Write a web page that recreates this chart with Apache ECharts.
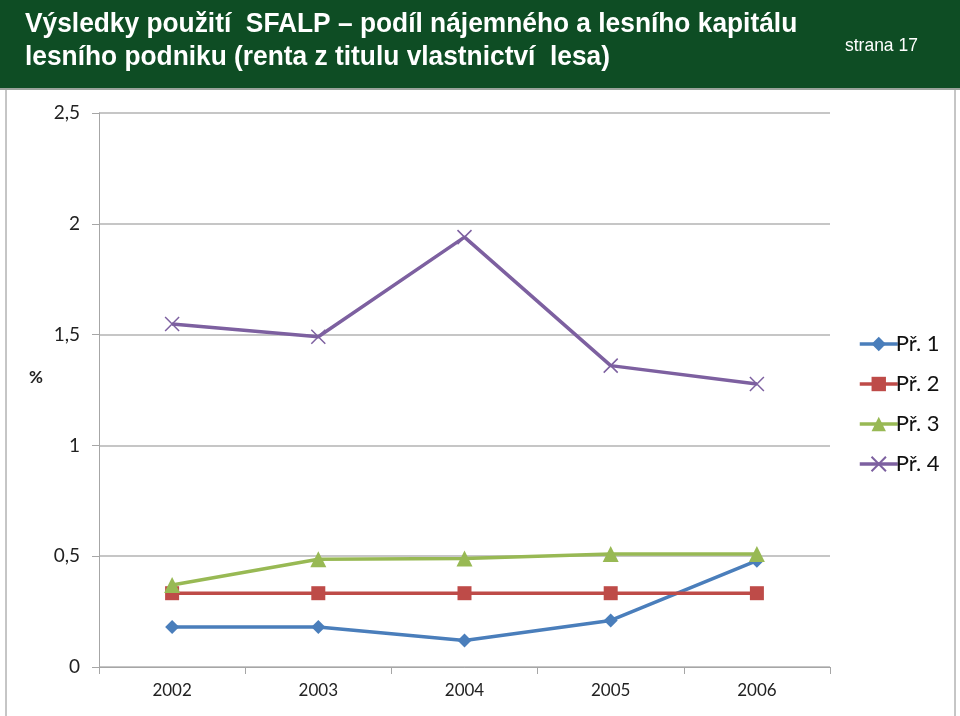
<!DOCTYPE html>
<html><head><meta charset="utf-8">
<script src="https://cdn.jsdelivr.net/npm/echarts@6/dist/echarts.min.js"></script>
<style>html,body{margin:0;padding:0;background:#fff}#c{width:960px;height:716px}</style>
</head><body><div id="c"></div>
<script>
const categories = ['2002','2003','2004','2005','2006'];
const seriesNames = ['Př. 1','Př. 2','Př. 3','Př. 4'];
const pr1 = [0.18, 0.18, 0.12, 0.21, 0.48];
const pr2 = [0.333, 0.333, 0.333, 0.333, 0.333];
const pr3 = [0.37, 0.486, 0.49, 0.51, 0.51];
const pr4 = [1.548, 1.49, 1.94, 1.36, 1.277];
const yTicks = ['0','0,5','1','1,5','2','2,5'];
const titleLines = ['Výsledky použití  SFALP – podíl nájemného a lesního kapitálu', 'lesního podniku (renta z titulu vlastnictví  lesa)'];
const pageLabel = 'strana 17';

const colors = ['#4a7ebb','#be4b48','#98b954','#7d60a0'];
const fontAx = 'Lato, "Noto Sans", sans-serif';
const chart = echarts.init(document.getElementById('c'));
const xPath = 'path://M0,0L10,10M10,0L0,10';
function mk(name, data, color, symbol, size, extra) {
  return Object.assign({
    name, type: 'line', data, symbol, symbolSize: size,
    lineStyle: {color, width: 3.5},
    itemStyle: {color, borderColor: color, borderWidth: 0},
    emphasis: {disabled: true}, animation: false
  }, extra || {});
}
const titleFont = 'bold 28px "Liberation Sans", Arial, sans-serif';
chart.setOption({
  animation: false,
  color: colors,
  graphic: [
    {type:'rect', shape:{x:0,y:0,width:960,height:88}, style:{fill:'#0e4d24'}},
    {type:'rect', shape:{x:0,y:88,width:960,height:2}, style:{fill:'#9aa39c'}},
    {type:'line', shape:{x1:6,y1:90,x2:6,y2:716}, style:{stroke:'#8c8c8c', lineWidth:1}},
    {type:'line', shape:{x1:955,y1:90,x2:955,y2:716}, style:{stroke:'#8c8c8c', lineWidth:1}},
    {type:'text', x:25, y:10, scaleX:0.94, style:{text:titleLines[0], fill:'#fff', font:titleFont}},
    {type:'text', x:25, y:43, scaleX:0.94, style:{text:titleLines[1], fill:'#fff', font:titleFont}},
    {type:'text', x:845, y:36, scaleX:0.92, style:{text:pageLabel, fill:'#fff', font:'19px "Liberation Sans", Arial, sans-serif'}},
    {type:'text', left:29, top:369, style:{text:'%', fill:'#222', font:'bold 17px ' + fontAx}}
  ],
  grid: {left: 99, right: 130, top: 113, bottom: 49},
  legend: {
    orient: 'vertical', left: 853, top: 328, itemGap: 18, itemWidth: 38, itemHeight: 18,
    data: seriesNames,
    lineStyle: {width: 3.5},
    textStyle: {fontSize: 22, color: '#111', fontFamily: fontAx, padding:[0,0,0,-7]}
  },
  xAxis: {
    type: 'category', data: categories, boundaryGap: true,
    axisLine: {lineStyle: {color: '#a6a6a6', width: 1}},
    axisTick: {show: true, length: 7, lineStyle: {color: '#a6a6a6'}},
    axisLabel: {fontSize: 17, color: '#222', fontFamily: fontAx, margin: 15}
  },
  yAxis: {
    type: 'value', min: 0, max: 2.5, interval: 0.5,
    axisLine: {show: true, lineStyle: {color: '#a6a6a6'}},
    axisTick: {show: true, length: 7, lineStyle: {color: '#a6a6a6'}},
    splitLine: {lineStyle: {color: '#b3b3b3', width: 1.5}},
    axisLabel: {fontSize: 19, color: '#222', fontFamily: fontAx, margin: 19,
      formatter: (v) => yTicks[Math.round(v / 0.5)]}
  },
  series: [
    mk(seriesNames[0], pr1, colors[0], 'diamond', 14),
    mk(seriesNames[1], pr2, colors[1], 'rect', 14),
    mk(seriesNames[2], pr3, colors[2], 'triangle', 16),
    mk(seriesNames[3], pr4, colors[3], xPath, 14, {itemStyle:{color:'none', borderColor:colors[3], borderWidth:1.5}})
  ]
});
</script></body></html>
